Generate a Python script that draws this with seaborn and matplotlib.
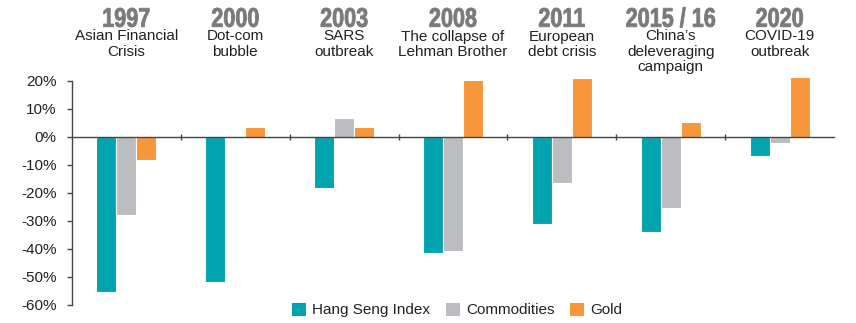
import matplotlib
matplotlib.use("Agg")
import matplotlib.pyplot as plt
from matplotlib.patches import Patch, PathPatch
from matplotlib.textpath import TextPath
from matplotlib.font_manager import FontProperties
from matplotlib.transforms import Affine2D, IdentityTransform
import numpy as np
import pandas as pd
import seaborn as sns

years = ["1997", "2000", "2003", "2008", "2011", "2015 / 16", "2020"]
events = ["Asian Financial\nCrisis", "Dot-com\nbubble", "SARS\noutbreak",
          "The collapse of\nLehman Brother", "European\ndebt crisis",
          "China\u2019s\ndeleveraging\ncampaign", "COVID-19\noutbreak"]
series = ["Hang Seng Index", "Commodities", "Gold"]
hang_seng = [-55.5, -51.9, -18.1, -41.4, -31.1, -33.9, -6.9]
commodities = [-27.9, None, 6.8, -40.6, -16.4, -25.5, -2.0]
gold = [-8.3, 3.7, 3.5, 20.4, 21.1, 5.2, 21.3]
yticks = [20, 10, 0, -10, -20, -30, -40, -50, -60]
colors = ["#00A3AE", "#BCBDC0", "#F7963A"]

rows = []
for vals, name in zip([hang_seng, commodities, gold], series):
    for yr, v in zip(years, vals):
        if v is not None:
            rows.append({"year": yr, "series": name, "value": v})
df = pd.DataFrame(rows)

sns.set_style("white")
plt.rcParams["font.family"] = ["Liberation Sans", "DejaVu Sans"]

W, H = 856, 323
fig = plt.figure(figsize=(W / 100, H / 100), dpi=100)
# plot area: x from 72 to 834 px; y from -60% (305 px) up to 23% (72.6 px)
ax = fig.add_axes([72 / W, 18 / H, 762 / W, (305 - 72.6) / H])

sns.barplot(data=df, x="year", y="value", hue="series", order=years,
            hue_order=series, palette=colors, width=0.55, dodge=True,
            edgecolor="white", linewidth=0.8, errorbar=None, ax=ax,
            legend=False, saturation=1)

ax.set_xlim(-0.5, len(years) - 0.5)
ax.set_ylim(-60, 23)
ax.set_yticks(yticks)
ax.set_yticklabels([f"{t}%" for t in yticks], fontsize=11, color="#222222")
ax.set_xticks(np.arange(len(years) - 1) + 0.5)
ax.set_xticklabels([])
ax.set_xlabel("")
ax.set_ylabel("")

for s in ["top", "right"]:
    ax.spines[s].set_visible(False)
ax.spines["left"].set_color("#444444")
ax.spines["left"].set_linewidth(1.0)
ax.spines["left"].set_bounds(-60, 20)
ax.spines["bottom"].set_position(("data", 0))
ax.spines["bottom"].set_color("#444444")
ax.spines["bottom"].set_linewidth(1.0)
ax.tick_params(axis="y", direction="out", length=3.6, width=1, color="#444444", pad=7.5, left=True)
ax.tick_params(axis="x", direction="inout", length=5, width=1, color="#444444", bottom=True)

# Event headers above the plotting area
year_font = FontProperties(family="Liberation Sans", weight="bold")
cat_w = 762 / len(years)
for i, (yr, ev) in enumerate(zip(years, events)):
    cx = 72 + cat_w * (i + 0.5)
    # condensed bold year label drawn as a horizontally squeezed text path
    tp = TextPath((0, 0), yr, size=27, prop=year_font)
    ext = tp.get_extents()
    sx = 0.8
    tr = Affine2D().translate(-(ext.x0 + ext.x1) / 2, 0).scale(sx, 1).translate(cx, H - 26.8)
    fig.patches.append(PathPatch(tr.transform_path(tp), facecolor="#7A7A7A",
                                 edgecolor="#7A7A7A", linewidth=0.6,
                                 transform=IdentityTransform(), figure=fig))
    fig.text(cx / W, 1 - 29.5 / H, ev, ha="center", va="top", fontsize=11,
             color="#222222", linespacing=1.12)

handles = [Patch(facecolor=c, edgecolor="none") for c in colors]
fig.legend(handles, series, loc="center", bbox_to_anchor=(457 / W, 1 - 310 / H),
           ncol=3, frameon=False, fontsize=11, handlelength=0.92, handleheight=0.92,
           handletextpad=0.4, columnspacing=1.0, labelcolor="#222222")

fig.savefig("out.png", dpi=100)
